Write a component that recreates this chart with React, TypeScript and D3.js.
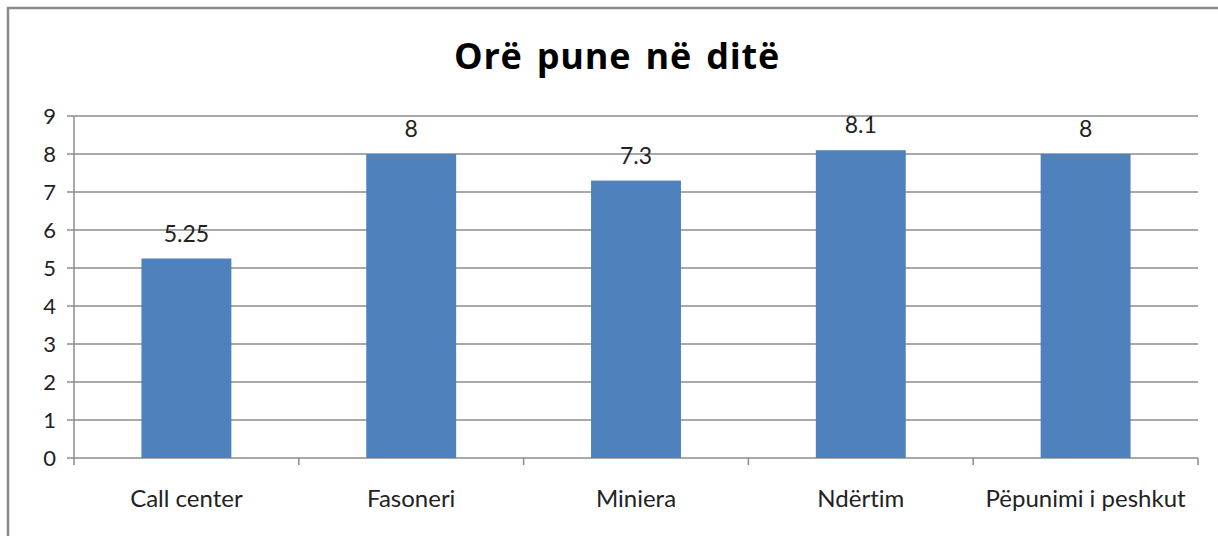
import React from "react";
import * as d3 from "d3";

const categories = ["Call center", "Fasoneri", "Miniera", "Ndërtim", "Pëpunimi i peshkut"];
const values = [5.25, 8, 7.3, 8.1, 8];
const valueLabels = ["5.25", "8", "7.3", "8.1", "8"];
const yTicks = [0, 1, 2, 3, 4, 5, 6, 7, 8, 9];
const title = "Orë pune në ditë";

export default function App() {
  const W = 1218, H = 536;
  const left = 74, right = 1198, top = 116, bottom = 458;
  const x = d3.scaleBand<string>().domain(categories).range([left, right]).paddingInner(0.6).paddingOuter(0.3);
  const band = d3.scaleBand<string>().domain(categories).range([left, right]);
  const y = d3.scaleLinear().domain([0, 9]).range([bottom, top]);
  const font = "Lato, 'Open Sans', sans-serif";
  const grid = "#8c8c8c";
  return (
    <svg width={W} height={H} style={{ position: "absolute", left: 0, top: 0, fontVariantLigatures: "none" }}>
      <rect x={0} y={0} width={W} height={H} fill="#fff" />
      <path d={`M8,${H} V8 H${W}`} fill="none" stroke="#8a8a8a" strokeWidth={2.5} />
      <text x={617} y={69} textAnchor="middle" fontFamily="'Open Sans', sans-serif" fontWeight={700} fontSize={36} letterSpacing={0.8} wordSpacing={4} fill="#000">{title}</text>
      {yTicks.map((t) => (
        <g key={t}>
          <line x1={left - 7} x2={right} y1={y(t)} y2={y(t)} stroke={grid} strokeWidth={1.5} />
          <text x={left - 18} y={y(t) + 8} textAnchor="end" fontFamily={font} fontSize={22} fill="#222">{t}</text>
        </g>
      ))}
      <line x1={left} x2={left} y1={top} y2={bottom + 7} stroke={grid} strokeWidth={1.5} />
      {categories.map((c) => (
        <line key={c} x1={band(c)! + band.bandwidth()} x2={band(c)! + band.bandwidth()} y1={bottom} y2={bottom + 7} stroke={grid} strokeWidth={1.5} />
      ))}
      {categories.map((c, i) => (
        <g key={c}>
          <rect x={x(c)} y={y(values[i])} width={x.bandwidth()} height={bottom - y(values[i])} fill="#4F81BD" />
          <text x={x(c)! + x.bandwidth() / 2} y={y(values[i]) - 17} textAnchor="middle" fontFamily={font} fontSize={23} fill="#222">{valueLabels[i]}</text>
          <text x={band(c)! + band.bandwidth() / 2} y={507} textAnchor="middle" fontFamily={font} fontSize={24} fill="#222">{c}</text>
        </g>
      ))}
    </svg>
  );
}
